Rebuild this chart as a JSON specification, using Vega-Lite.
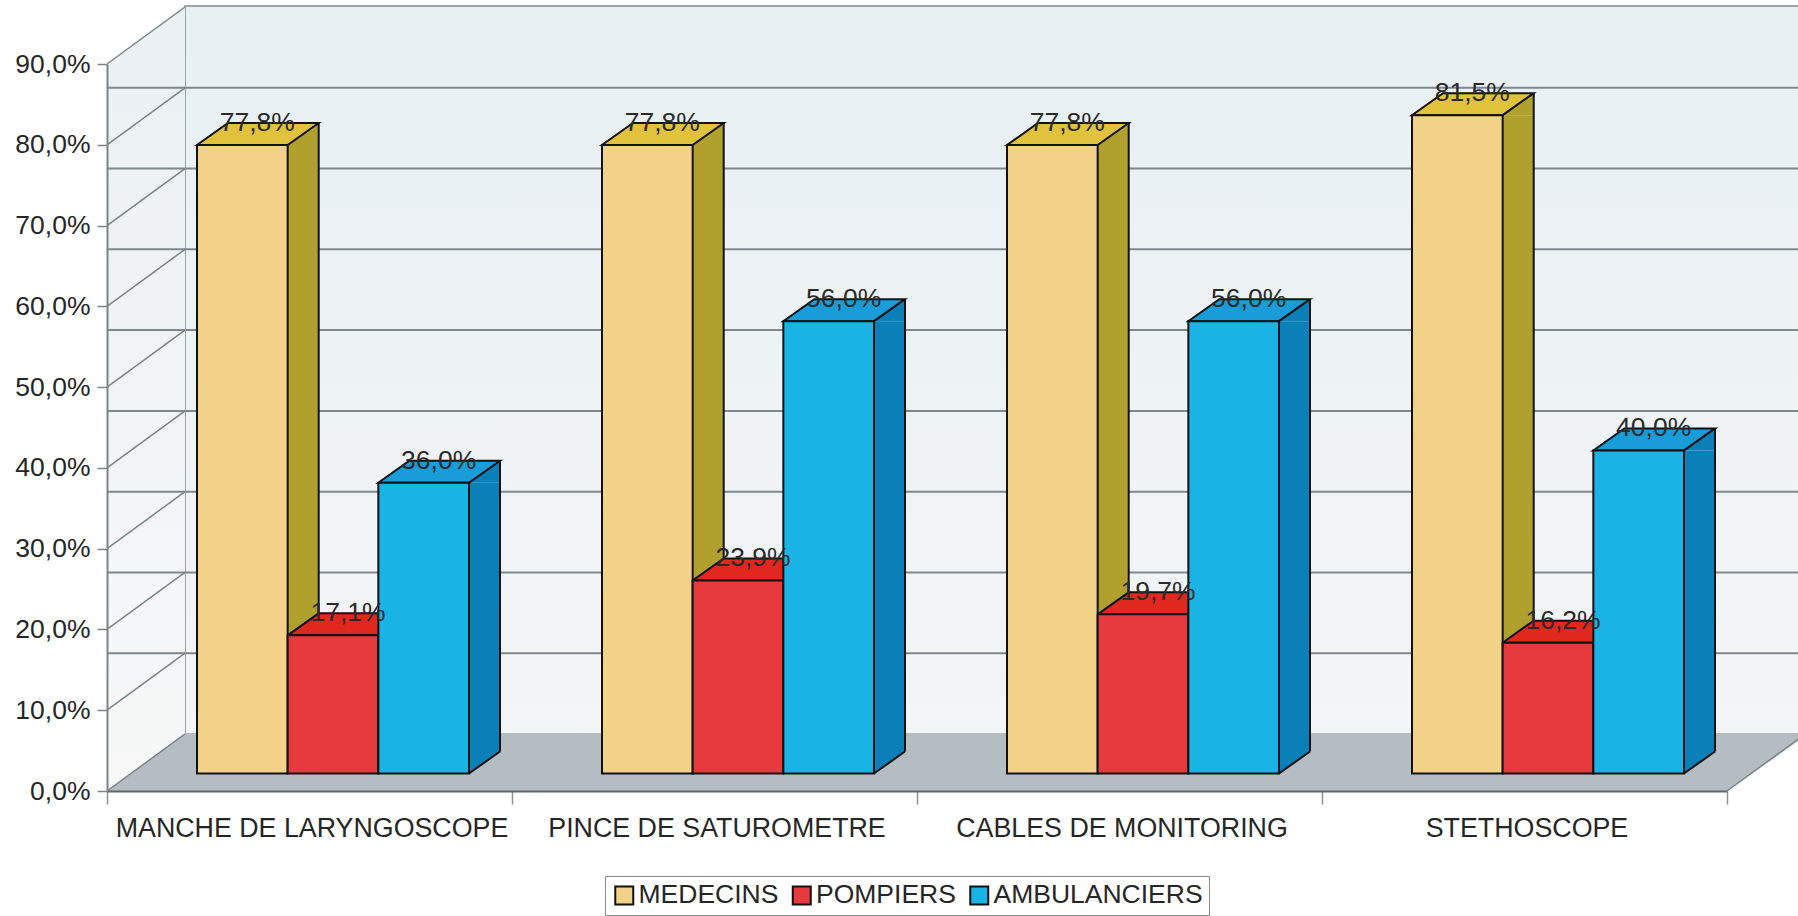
{
"$schema":"https://vega.github.io/schema/vega-lite/v6.json",
"width":1691,"height":727,
"autosize":{"type":"none"},
"padding":{"left":107,"top":64,"right":0,"bottom":125},
"background":"#ffffff",
"view":{"stroke":null},
"config":{"font":"Liberation Sans"},
"datasets":{
"ticks":[{"tick":0,"category":"MANCHE DE LARYNGOSCOPE"},{"tick":10,"category":"MANCHE DE LARYNGOSCOPE"},{"tick":20,"category":"MANCHE DE LARYNGOSCOPE"},{"tick":30,"category":"MANCHE DE LARYNGOSCOPE"},{"tick":40,"category":"MANCHE DE LARYNGOSCOPE"},{"tick":50,"category":"MANCHE DE LARYNGOSCOPE"},{"tick":60,"category":"MANCHE DE LARYNGOSCOPE"},{"tick":70,"category":"MANCHE DE LARYNGOSCOPE"},{"tick":80,"category":"MANCHE DE LARYNGOSCOPE"},{"tick":90,"category":"MANCHE DE LARYNGOSCOPE"}],
"bars":[
{"category":"MANCHE DE LARYNGOSCOPE","series":"MEDECINS","value":77.8,"label":"77,8%"},
{"category":"MANCHE DE LARYNGOSCOPE","series":"POMPIERS","value":17.1,"label":"17,1%"},
{"category":"MANCHE DE LARYNGOSCOPE","series":"AMBULANCIERS","value":36.0,"label":"36,0%"},
{"category":"PINCE DE SATUROMETRE","series":"MEDECINS","value":77.8,"label":"77,8%"},
{"category":"PINCE DE SATUROMETRE","series":"POMPIERS","value":23.9,"label":"23,9%"},
{"category":"PINCE DE SATUROMETRE","series":"AMBULANCIERS","value":56.0,"label":"56,0%"},
{"category":"CABLES DE MONITORING","series":"MEDECINS","value":77.8,"label":"77,8%"},
{"category":"CABLES DE MONITORING","series":"POMPIERS","value":19.7,"label":"19,7%"},
{"category":"CABLES DE MONITORING","series":"AMBULANCIERS","value":56.0,"label":"56,0%"},
{"category":"STETHOSCOPE","series":"MEDECINS","value":81.5,"label":"81,5%"},
{"category":"STETHOSCOPE","series":"POMPIERS","value":16.2,"label":"16,2%"},
{"category":"STETHOSCOPE","series":"AMBULANCIERS","value":40.0,"label":"40,0%"}
]},
"data":{"name":"bars"},
"layer":[
{"mark":{"type":"point","filled":true,"opacity":1,"size":4,"shape":"M-124.5,-57 L1700,-57 L1700,-785 L-124.5,-785 Z","stroke":"#9aa3a6","strokeWidth":2,"fill":{"gradient":"linear","x1":0,"y1":0,"x2":0,"y2":1,"stops":[{"offset":0,"color":"#e8f0f4"},{"offset":1,"color":"#f3f5f6"}]}},
 "data":{"values":[{"category":"MANCHE DE LARYNGOSCOPE","v":0}]},
 "encoding":{"x":{"field":"category","type":"nominal","scale":{"type":"band","domain":["MANCHE DE LARYNGOSCOPE","PINCE DE SATUROMETRE","CABLES DE MONITORING","STETHOSCOPE"],"range":[0,1620],"paddingInner":0,"paddingOuter":0},"axis":{"title":null,"zindex":1,"domainColor":"#5f686c","domainWidth":2,"tickColor":"#8a9296","tickWidth":1.5,"tickSize":13,"tickBand":"extent","labelAngle":0,"labelFontSize":26.8,"labelColor":"#262626","labelPadding":11,"labelFont":"Liberation Sans","labelOffset":2,"labelLimit":500}},
  "y":{"field":"v","type":"quantitative","scale":{"domain":[0,90],"nice":false,"zero":true},"axis":{"title":null,"zindex":1,"values":[0,10,20,30,40,50,60,70,80,90],"labelExpr":"replace(format(datum.value,'.1f'),'.',',')+'%'","domainColor":"#7b8488","domainWidth":2,"tickColor":"#7b8488","tickWidth":1.5,"tickSize":10,"labelFontSize":26.5,"labelColor":"#262626","labelPadding":7,"labelFont":"Liberation Sans","grid":false}}}},
{"mark":{"type":"point","filled":true,"opacity":1,"size":4,"shape":"M-202.5,0 L-124.5,-57 L-124.5,-785 L-202.5,-728 Z","fill":{"gradient":"linear","x1":0,"y1":0,"x2":0,"y2":1,"stops":[{"offset":0,"color":"#eaf0f4"},{"offset":1,"color":"#f8f8f8"}]}},
 "data":{"values":[{"category":"MANCHE DE LARYNGOSCOPE","v":0}]},
 "encoding":{"x":{"field":"category","type":"nominal"},"y":{"field":"v","type":"quantitative"}}},
{"mark":{"type":"point","filled":true,"opacity":1,"size":4,"shape":"M-202.5,0 L1417.5,0 L1500,-58 L-124.5,-58 Z","fill":"#b4bec2"},
 "data":{"values":[{"category":"MANCHE DE LARYNGOSCOPE","v":0}]},
 "encoding":{"x":{"field":"category","type":"nominal"},"y":{"field":"v","type":"quantitative"}}},
{"mark":{"type":"point","filled":false,"opacity":1,"size":4,"shape":"M1417.5,0 L1500,-60","stroke":"#7b8488","strokeWidth":1.5},
 "data":{"values":[{"category":"MANCHE DE LARYNGOSCOPE","v":0}]},
 "encoding":{"x":{"field":"category","type":"nominal"},"y":{"field":"v","type":"quantitative"}}},
{"mark":{"type":"rule","xOffset":78,"yOffset":-57,"stroke":"#7f888c","strokeWidth":2},
 "data":{"name":"ticks"},
 "transform":[{"filter":"datum.tick>0 && datum.tick<90"}],
 "encoding":{"y":{"field":"tick","type":"quantitative"}}},
{"mark":{"type":"point","filled":false,"opacity":1,"size":4,"shape":"M-202.5,0 L-124.5,-57","stroke":"#7b8488","strokeWidth":1.5},
 "data":{"name":"ticks"},
 "encoding":{"x":{"field":"category","type":"nominal"},"y":{"field":"tick","type":"quantitative"}}},

{"transform":[{"filter":"datum.series==='MEDECINS'"}],
 "layer":[
 {"mark":{"type":"bar","width":31,"xOffset":-6.3,"yOffset":-17.5,"y2Offset":-39.5,"fill":"#b0a02e"},
  "encoding":{"x":{"field":"category","type":"nominal"},"y":{"field":"value","type":"quantitative"},"y2":{"datum":0}}},
 {"mark":{"type":"point","filled":true,"opacity":1,"size":4,"yOffset":-17.5,"shape":"M45.33,0 L76.33,-22 L76.33,0 Z","fill":"#b0a02e"},
  "encoding":{"x":{"field":"category","type":"nominal"},"xOffset":{"field":"series","type":"nominal"},"y":{"field":"value","type":"quantitative"}}},
 {"mark":{"type":"rule","xOffset":9.2,"yOffset":-39.5,"y2Offset":-39.5,"stroke":"#111111","strokeWidth":2},
  "encoding":{"x":{"field":"category","type":"nominal"},"y":{"field":"value","type":"quantitative"},"y2":{"datum":0}}},
 {"mark":{"type":"point","filled":true,"opacity":1,"size":4,"yOffset":-17.5,"shape":"M-45.33,0 L45.33,0 L76.33,-22 L-14.33,-22 Z","stroke":"#111111","strokeWidth":2,"fill":"#e0c23c"},
  "encoding":{"x":{"field":"category","type":"nominal"},"xOffset":{"field":"series","type":"nominal"},"y":{"field":"value","type":"quantitative"}}}
 ]},
{"transform":[{"filter":"datum.series==='POMPIERS'"}],
 "mark":{"type":"point","filled":true,"opacity":1,"size":4,"yOffset":-17.5,"shape":"M-45.33,0 L45.33,0 L76.33,-22 L-14.33,-22 Z","stroke":"#111111","strokeWidth":2,"fill":"#e0281f"},
 "encoding":{"x":{"field":"category","type":"nominal"},"xOffset":{"field":"series","type":"nominal"},"y":{"field":"value","type":"quantitative"}}},
{"transform":[{"filter":"datum.series==='AMBULANCIERS'"}],
 "layer":[
 {"mark":{"type":"bar","width":31,"xOffset":175,"yOffset":-17.5,"y2Offset":-39.5,"fill":"#0a7fb8"},
  "encoding":{"x":{"field":"category","type":"nominal"},"y":{"field":"value","type":"quantitative"},"y2":{"datum":0}}},
 {"mark":{"type":"point","filled":true,"opacity":1,"size":4,"yOffset":-17.5,"shape":"M45.33,0 L76.33,-22 L76.33,0 Z","fill":"#0a7fb8"},
  "encoding":{"x":{"field":"category","type":"nominal"},"xOffset":{"field":"series","type":"nominal"},"y":{"field":"value","type":"quantitative"}}},
 {"mark":{"type":"point","filled":true,"opacity":1,"size":4,"yOffset":-17.5,"shape":"M45.33,0 L76.33,-22 L76.33,-23 L45.33,-23 Z","fill":"#0a7fb8"},
  "encoding":{"x":{"field":"category","type":"nominal"},"xOffset":{"field":"series","type":"nominal"},"y":{"datum":0}}},
 {"mark":{"type":"point","filled":false,"opacity":1,"size":4,"yOffset":-17.5,"shape":"M45.33,0 L76.33,-22","stroke":"#111111","strokeWidth":2},
  "encoding":{"x":{"field":"category","type":"nominal"},"xOffset":{"field":"series","type":"nominal"},"y":{"datum":0}}},
 {"mark":{"type":"rule","xOffset":190.5,"yOffset":-39.5,"y2Offset":-39.5,"stroke":"#111111","strokeWidth":2},
  "encoding":{"x":{"field":"category","type":"nominal"},"y":{"field":"value","type":"quantitative"},"y2":{"datum":0}}},
 {"mark":{"type":"point","filled":true,"opacity":1,"size":4,"yOffset":-17.5,"shape":"M-45.33,0 L45.33,0 L76.33,-22 L-14.33,-22 Z","stroke":"#111111","strokeWidth":2,"fill":"#1a9cd8"},
  "encoding":{"x":{"field":"category","type":"nominal"},"xOffset":{"field":"series","type":"nominal"},"y":{"field":"value","type":"quantitative"}}}
 ]},
{"mark":{"type":"bar","yOffset":-17.5,"y2Offset":-17.5,"stroke":"#111111","strokeWidth":2},
 "encoding":{"x":{"field":"category","type":"nominal"},
  "xOffset":{"field":"series","type":"nominal","scale":{"type":"band","domain":["MEDECINS","POMPIERS","AMBULANCIERS"],"range":[90,362]}},
  "y":{"field":"value","type":"quantitative"},"y2":{"datum":0},
  "color":{"field":"series","type":"nominal","scale":{"domain":["MEDECINS","POMPIERS","AMBULANCIERS"],"range":["#f2d188","#e63a3f","#1ab3e6"]},
   "legend":{"title":null,"orient":"none","legendX":498,"legendY":812,"direction":"horizontal","columns":3,"symbolType":"square","symbolSize":324,"symbolStrokeColor":"#111111","symbolStrokeWidth":2,"labelFontSize":26.5,"labelColor":"#262626","labelFont":"Liberation Sans","labelLimit":300,"columnPadding":9.5,"labelOffset":1,"padding":6,"strokeColor":"#8a8a8a","fillColor":"#ffffff"}}}},
{"mark":{"type":"text","font":"Liberation Sans","fontSize":26.5,"color":"#2a2a2a","align":"center","baseline":"alphabetic","dx":15,"dy":-31.5},
 "encoding":{"x":{"field":"category","type":"nominal"},"xOffset":{"field":"series","type":"nominal"},"y":{"field":"value","type":"quantitative"},"text":{"field":"label"}}}
]
}
